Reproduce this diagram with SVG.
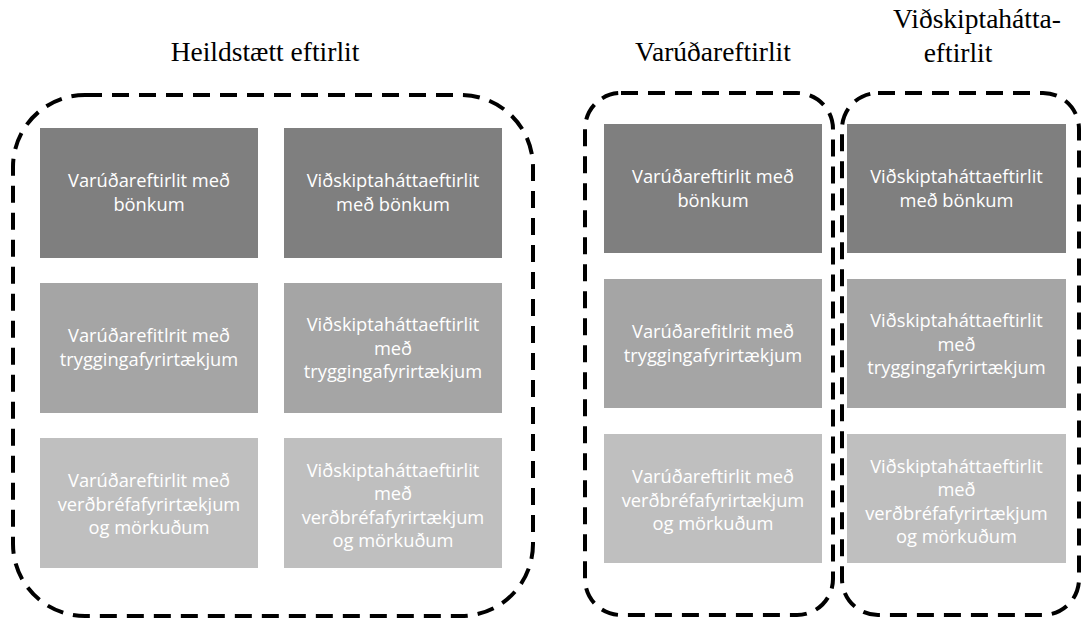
<svg xmlns="http://www.w3.org/2000/svg" width="1084" height="619" viewBox="0 0 1084 619">
<style>
.title{font-family:"Liberation Serif","Times New Roman",serif;font-size:27.5px;fill:#000;text-anchor:middle}
.box text{font-family:"Open Sans","Liberation Sans",sans-serif;font-size:18.3px;fill:#fff;text-anchor:middle}
.r1{fill:#7f7f7f}
.r2{fill:#a5a5a5}
.r3{fill:#bfbfbf}
.grp{fill:none;stroke:#000;stroke-width:4;stroke-dasharray:17 10}
</style>
<rect width="1084" height="619" fill="#fff"/>
<g id="titles">
<text class="title" x="265" y="61">Heildstætt eftirlit</text>
<text class="title" x="713" y="61">Varúðareftirlit</text>
<text class="title" x="977" y="28">Viðskiptahátta-</text>
<text class="title" x="958" y="62">eftirlit</text>
</g>
<g id="connectors">
<rect class="grp" x="13" y="95" width="520" height="521" rx="72" ry="72"/>
<rect class="grp" x="585" y="93" width="248" height="522" rx="36" ry="36"/>
<rect class="grp" x="842" y="93" width="237" height="522" rx="36" ry="36"/>
</g>
<g id="n1" class="box"><rect class="r1" x="40" y="128" width="218" height="130"/>
<text x="149" y="187">Varúðareftirlit með</text><text x="149" y="211">bönkum</text></g>
<g id="n2" class="box"><rect class="r1" x="284" y="128" width="218" height="130"/>
<text x="393" y="187">Viðskiptaháttaeftirlit</text><text x="393" y="211">með bönkum</text></g>
<g id="n3" class="box"><rect class="r2" x="40" y="283" width="218" height="130"/>
<text x="149" y="342">Varúðarefitlrit með</text><text x="149" y="366">tryggingafyrirtækjum</text></g>
<g id="n4" class="box"><rect class="r2" x="284" y="283" width="218" height="130"/>
<text x="393" y="331">Viðskiptaháttaeftirlit</text><text x="393" y="355">með</text><text x="393" y="378">tryggingafyrirtækjum</text></g>
<g id="n5" class="box"><rect class="r3" x="40" y="438" width="218" height="130"/>
<text x="149" y="487">Varúðareftirlit með</text><text x="149" y="511">verðbréfafyrirtækjum</text><text x="149" y="534">og mörkuðum</text></g>
<g id="n6" class="box"><rect class="r3" x="284" y="438" width="218" height="130"/>
<text x="393" y="477">Viðskiptaháttaeftirlit</text><text x="393" y="500">með</text><text x="393" y="524">verðbréfafyrirtækjum</text><text x="393" y="547">og mörkuðum</text></g>
<g id="n7" class="box"><rect class="r1" x="604" y="124" width="218" height="129"/>
<text x="713" y="183">Varúðareftirlit með</text><text x="713" y="207">bönkum</text></g>
<g id="n8" class="box"><rect class="r1" x="847" y="124" width="219" height="129"/>
<text x="956.5" y="183">Viðskiptaháttaeftirlit</text><text x="956.5" y="207">með bönkum</text></g>
<g id="n9" class="box"><rect class="r2" x="604" y="279" width="218" height="129"/>
<text x="713" y="338">Varúðarefitlrit með</text><text x="713" y="362">tryggingafyrirtækjum</text></g>
<g id="n10" class="box"><rect class="r2" x="847" y="279" width="219" height="129"/>
<text x="956.5" y="327">Viðskiptaháttaeftirlit</text><text x="956.5" y="351">með</text><text x="956.5" y="374">tryggingafyrirtækjum</text></g>
<g id="n11" class="box"><rect class="r3" x="604" y="434" width="218" height="129"/>
<text x="713" y="483">Varúðareftirlit með</text><text x="713" y="507">verðbréfafyrirtækjum</text><text x="713" y="530">og mörkuðum</text></g>
<g id="n12" class="box"><rect class="r3" x="847" y="434" width="219" height="129"/>
<text x="956.5" y="473">Viðskiptaháttaeftirlit</text><text x="956.5" y="496">með</text><text x="956.5" y="520">verðbréfafyrirtækjum</text><text x="956.5" y="543">og mörkuðum</text></g>
</svg>
